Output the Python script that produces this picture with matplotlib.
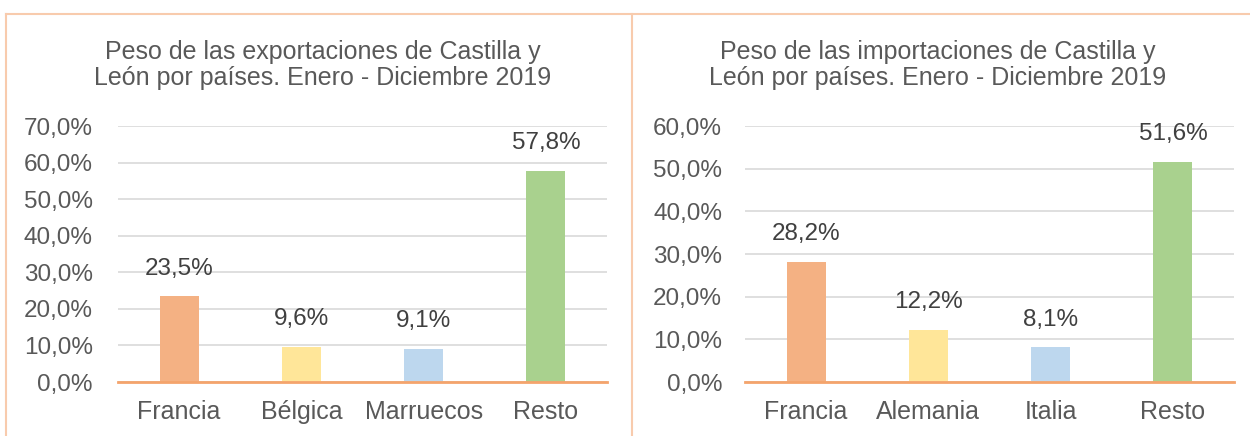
import matplotlib
matplotlib.use("Agg")
import matplotlib.pyplot as plt
from matplotlib.lines import Line2D

plt.rcParams['font.family'] = ['Liberation Sans', 'DejaVu Sans']

exp_categories = ["Francia", "Bélgica", "Marruecos", "Resto"]
exp_values = [23.5, 9.6, 9.1, 57.8]
imp_categories = ["Francia", "Alemania", "Italia", "Resto"]
imp_values = [28.2, 12.2, 8.1, 51.6]
bar_colors = ["#F4B183", "#FFE699", "#BDD7EE", "#A9D18E"]
exp_title = "Peso de las exportaciones de Castilla y\nLeón por países. Enero - Diciembre 2019"
imp_title = "Peso de las importaciones de Castilla y\nLeón por países. Enero - Diciembre 2019"
exp_ticks = [0, 10, 20, 30, 40, 50, 60, 70]
imp_ticks = [0, 10, 20, 30, 40, 50, 60]

W, H = 1250, 436
fig = plt.figure(figsize=(W / 100, H / 100), dpi=100)
fig.patch.set_facecolor("white")

border = "#F8CBAD"
fig.add_artist(Line2D([6 / W, 6 / W], [1 - 14 / H, 0], color=border, lw=1.5))
fig.add_artist(Line2D([6 / W, 1], [1 - 14 / H, 1 - 14 / H], color=border, lw=1.5))
fig.add_artist(Line2D([632 / W, 632 / W], [1 - 14 / H, 0], color=border, lw=1.5))

gray = "#595959"
label_col = "#404040"
NUM_FS = 17.5
CAT_FS = 18
TITLE_FS = 18


def fmt(v):
    return f"{v:.1f}".replace(".", ",") + "%"


def make_panel(left_px, cats, vals, ticks, title, title_cx, ypad):
    ax = fig.add_axes([left_px / W, (H - 382) / H, 489 / W, 256 / H])
    x = range(len(cats))
    ax.bar(x, vals, width=0.32, color=bar_colors, zorder=2)
    ax.set_xlim(-0.5, len(cats) - 0.5)
    ax.set_ylim(ticks[0], ticks[-1])
    ax.set_yticks(ticks)
    ax.set_yticklabels([fmt(t) for t in ticks], fontsize=NUM_FS, color=gray)
    ax.set_xticks(list(x))
    ax.set_xticklabels(cats, fontsize=CAT_FS, color=gray)
    ax.tick_params(axis="both", length=0)
    ax.tick_params(axis="y", pad=ypad)
    ax.tick_params(axis="x", pad=13)
    for s in ["top", "right", "left"]:
        ax.spines[s].set_visible(False)
    ax.spines["bottom"].set_color("#F4A46C")
    ax.spines["bottom"].set_linewidth(2)
    ax.spines["bottom"].set_zorder(3)
    ax.yaxis.grid(True, color="#D9D9D9", lw=1.2, zorder=0)
    ax.set_axisbelow(True)
    for i, v in enumerate(vals):
        ax.annotate(fmt(v), (i, v), xytext=(0, 15.5), textcoords="offset points",
                    ha="center", va="baseline", fontsize=NUM_FS, color=label_col)
    fig.text(title_cx / W, 1 - 65 / H, title, ha="center", va="center",
             fontsize=TITLE_FS, color=gray, linespacing=1.15)
    return ax


make_panel(118, exp_categories, exp_values, exp_ticks, exp_title, 323, 18)
make_panel(745, imp_categories, imp_values, imp_ticks, imp_title, 938, 16.5)

fig.savefig("out.png", dpi=100)
